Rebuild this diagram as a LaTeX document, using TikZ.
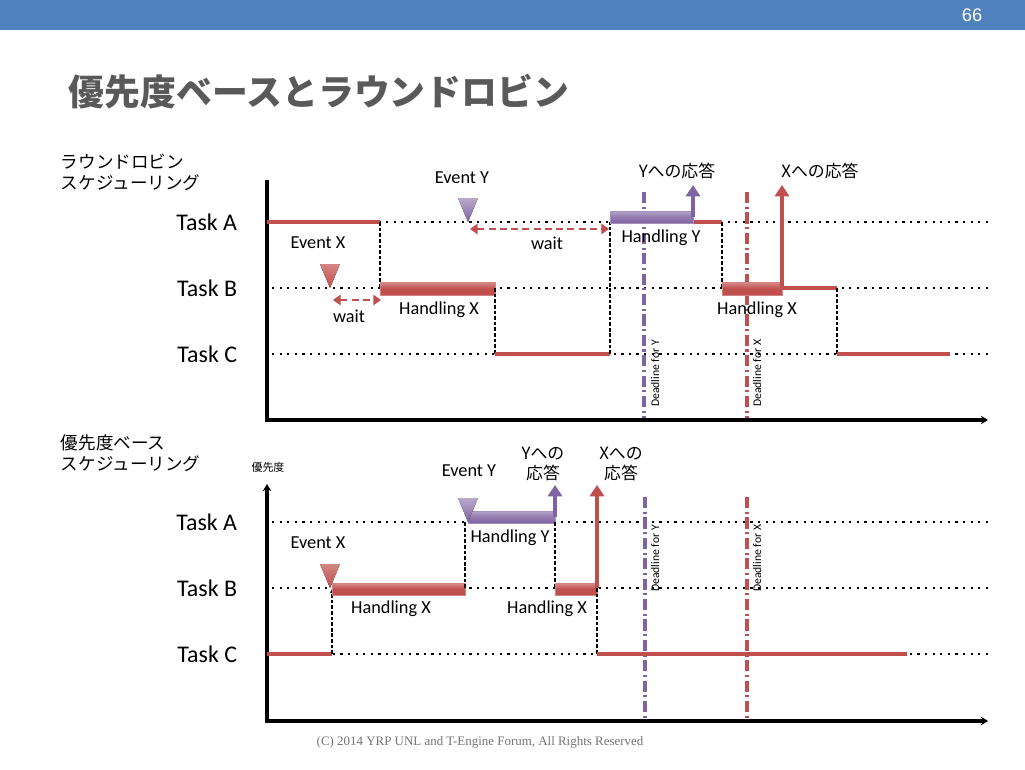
\documentclass[tikz,border=0pt]{standalone}
\usepackage{fontspec}
\setmainfont{Carlito}
\newfontfamily\jpfont{Noto Sans CJK JP}
\newfontfamily\footfont{Liberation Serif}
\newfontfamily\pagefont{Liberation Sans}
\usetikzlibrary{arrows.meta,positioning,calc}

\definecolor{headblue}{HTML}{4F81BD}
\definecolor{taskred}{HTML}{C0504D}
\definecolor{taskpurple}{HTML}{8064A2}
\definecolor{titlegray}{HTML}{595959}

\tikzset{
  axisline/.style={line width=2.6pt, line join=miter},
  levelline/.style={line width=1.8pt, dash pattern=on 1.6pt off 3.8pt},
  runline/.style={line width=2.5pt, taskred},
  switchline/.style={line width=0.9pt, dash pattern=on 2.6pt off 1.4pt},
  redbar/.style={draw=taskred!70, line width=0.4pt, top color=taskred!65!white, bottom color=taskred, middle color=taskred},
  purplebar/.style={draw=taskpurple!70, line width=0.4pt, top color=taskpurple!60!white, bottom color=taskpurple, middle color=taskpurple!85},
  redmark/.style={top color=taskred!70!white, bottom color=taskred},
  purplemark/.style={top color=taskpurple!55!white, bottom color=taskpurple},
  waitarrow/.style={line width=2pt, taskred, dash pattern=on 5pt off 3pt, {Triangle[length=5.5pt,width=7.5pt]}-{Triangle[length=5.5pt,width=7.5pt]}},
  resparrow/.style={line width=2.5pt, -{Triangle[length=8pt,width=10pt]}},
  deadline/.style={line width=2.5pt, dash pattern=on 8pt off 2.5pt on 1.5pt off 2.5pt},
  lbl/.style={font=\fontsize{13}{15}\selectfont},
  tasklbl/.style={font=\fontsize{17}{20}\selectfont, anchor=east},
  jplbl/.style={font=\jpfont\fontsize{12}{14.5}\selectfont, align=center},
  seclbl/.style={font=\jpfont\fontsize{12.5}{15}\selectfont, align=left, anchor=north west},
  dllbl/.style={font=\fontsize{8.3}{10}\selectfont, rotate=90, anchor=west, inner sep=0pt}
}

\begin{document}
\begin{tikzpicture}[x=0.025cm, y=-0.025cm]
\useasboundingbox (0,0) rectangle (1025,769);
\fill[headblue] (0,0) rectangle (1025,30);
\node[text=white, font=\pagefont\fontsize{13}{15}\selectfont] (page) at (972,15) {66};
\node[anchor=west, text=titlegray, font=\jpfont\bfseries\fontsize{25.5}{30}\selectfont] (title) at (64,92) {優先度ベースとラウンドロビン};

% round robin
\node[seclbl] (rrlbl) at (56,149) {ラウンドロビン\\スケジューリング};
\node[tasklbl] (ta1) at (242,222) {Task A};
\node[tasklbl] (tb1) at (242,288) {Task B};
\node[tasklbl] (tc1) at (242,354) {Task C};
\foreach \y in {222,288,354}
  \draw[levelline] (272,\y) -- (990,\y);
\draw[axisline, -{Stealth[length=5pt,width=6pt]}] (267,180) |- (988,420);

\draw[deadline, taskpurple] (644,192) -- (644,418);
\draw[deadline, taskred] (747,192) -- (747,418);
\node[dllbl] (dly1) at (655,407) {Deadline for Y};
\node[dllbl] (dlx1) at (757,407) {Deadline for X};

\draw[runline] (267,222) -- (380,222);
\draw[switchline] (380,222) -- (380,288);
\draw[redbar] (380,282) rectangle (495,295);
\draw[switchline] (495,288) -- (495,354);
\draw[runline] (495,354) -- (610,354);
\draw[switchline] (610,354) -- (610,222);
\draw[runline] (693,222) -- (722,222);
\draw[purplebar] (610,211) rectangle (693,223);
\draw[switchline] (722,222) -- (722,288);
\draw[redbar] (722,282) rectangle (782,295);
\draw[runline] (782,288) -- (837,288);
\draw[switchline] (837,288) -- (837,354);
\draw[runline] (837,354) -- (950,354);

\coordinate (hy1) at (693,217);
\coordinate (ry1) at (693,185);
\coordinate (hx1) at (782,288);
\coordinate (rx1) at (782,185);
\draw[resparrow, taskpurple] (hy1) -- (ry1);
\draw[resparrow, taskred] (hx1) -- (rx1);

\fill[redmark] (330,288) -- (320,264) -- (340,264) -- cycle;
\fill[purplemark] (468,222) -- (458,198) -- (478,198) -- cycle;
\coordinate (wx1a) at (333,300);
\coordinate (wx1b) at (381,300);
\coordinate (wy1a) at (470,229);
\coordinate (wy1b) at (609,229);
\draw[waitarrow] (wx1a) -- (wx1b);
\draw[waitarrow] (wy1a) -- (wy1b);

\node[lbl] (evy1) at (462,178) {Event Y};
\node[lbl] (evx1) at (318,243) {Event X};
\node[lbl] (wait1) at (349,316) {wait};
\node[lbl] (wait2) at (547,243) {wait};
\node[lbl] (hdy1) at (661,238) {Handling Y};
\node[lbl] (hdx1) at (439,310) {Handling X};
\node[lbl] (hdx2) at (757,310) {Handling X};
\node[jplbl] (resy1) at (677,171) {Yへの応答};
\node[jplbl] (resx1) at (820,171) {Xへの応答};

% priority based
\node[seclbl] (pblbl) at (56,430) {優先度ベース\\スケジューリング};
\node[font=\jpfont\fontsize{7.8}{9}\selectfont] (prio) at (268,467) {優先度};
\node[tasklbl] (ta2) at (242,522) {Task A};
\node[tasklbl] (tb2) at (242,588) {Task B};
\node[tasklbl] (tc2) at (242,654) {Task C};
\foreach \y in {522,588,654}
  \draw[levelline] (272,\y) -- (990,\y);
\draw[axisline, {Stealth[length=5pt,width=6pt]}-{Stealth[length=5pt,width=6pt]}] (267,484) |- (988,721);

\draw[deadline, taskpurple] (645,497) -- (645,720);
\draw[deadline, taskred] (747,497) -- (747,720);
\node[dllbl] (dly2) at (655,592) {Deadline for Y};
\node[dllbl] (dlx2) at (757,592) {Deadline for X};

\draw[runline] (267,654) -- (332,654);
\draw[switchline, -{Stealth[length=3pt,width=3pt]}] (332,654) -- (332,589);
\draw[redbar] (332,583) rectangle (465,595);
\draw[switchline] (465,588) -- (465,522);
\draw[purplebar] (468,511) rectangle (555,523);
\draw[switchline] (555,522) -- (555,588);
\draw[redbar] (555,583) rectangle (597,595);
\draw[switchline] (597,588) -- (597,654);
\draw[runline] (597,654) -- (907,654);

\coordinate (hy2) at (555,517);
\coordinate (ry2) at (555,485);
\coordinate (hx2) at (597,588);
\coordinate (rx2) at (597,485);
\draw[resparrow, taskpurple] (hy2) -- (ry2);
\draw[resparrow, taskred] (hx2) -- (rx2);

\fill[redmark] (330,588) -- (320,564) -- (340,564) -- cycle;
\fill[purplemark] (468,522) -- (458,498) -- (478,498) -- cycle;

\node[lbl] (evy2) at (469,471) {Event Y};
\node[jplbl] (resy2) at (543,464) {Yへの\\応答};
\node[jplbl] (resx2) at (621,464) {Xへの\\応答};
\node[lbl] (evx2) at (318,543) {Event X};
\node[lbl] (hdy2) at (510,538) {Handling Y};
\node[lbl] (hdx3) at (391,609) {Handling X};
\node[lbl] (hdx4) at (547,609) {Handling X};

\node[text=black!55, font=\footfont\fontsize{9.2}{11}\selectfont] (foot) at (480,742) {(C) 2014 YRP UNL and T-Engine Forum, All Rights Reserved};
\end{tikzpicture}
\end{document}
